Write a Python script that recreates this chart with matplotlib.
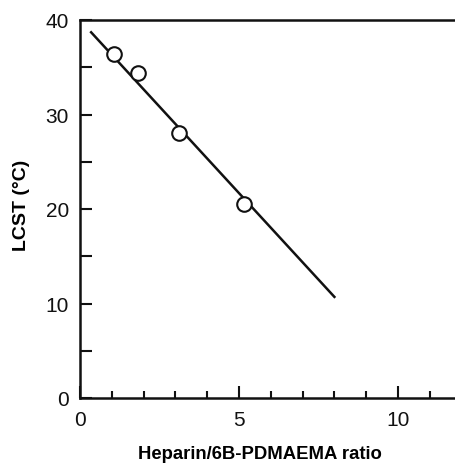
import matplotlib
matplotlib.use("Agg")
import matplotlib.pyplot as plt
from matplotlib.ticker import MultipleLocator

plt.rcParams['font.family'] = ['Liberation Sans', 'DejaVu Sans']

ratio = [1.08, 1.83, 3.12, 5.17]
lcst = [36.4, 34.4, 28.0, 20.5]
fit_x = [0.35, 8.0]
fit_y = [38.7, 10.7]

W, H = 456, 464
fig = plt.figure(figsize=(W / 100, H / 100), dpi=100)
left, right, top, bottom = 80, 455, 21, 399
ax = fig.add_axes([left / W, 1 - bottom / H, (right - left) / W, (bottom - top) / H])

ax.plot(fit_x, fit_y, color='#111111', lw=1.8, zorder=2)
ax.plot(ratio, lcst, linestyle='none', marker='o', ms=10.5, mfc='white',
        mec='#111111', mew=1.5, zorder=3)

ax.set_xlim(0, (right - left) / 31.8)
ax.set_ylim(0, 40)
ax.xaxis.set_major_locator(MultipleLocator(5))
ax.xaxis.set_minor_locator(MultipleLocator(1))
ax.yaxis.set_major_locator(MultipleLocator(10))
ax.yaxis.set_minor_locator(MultipleLocator(5))
ax.tick_params(which='both', direction='in', width=1.5, colors='#111111',
               labelsize=15, top=False, right=False)
ax.tick_params(axis='x', which='major', length=8.5, pad=9)
ax.tick_params(axis='x', which='minor', length=5)
ax.tick_params(axis='y', which='major', length=8.5, pad=8)
ax.tick_params(axis='y', which='minor', length=8.5)
for s in ['left', 'bottom', 'top']:
    ax.spines[s].set_linewidth(1.8)
    ax.spines[s].set_color('#111111')
ax.spines['right'].set_visible(False)

ax.set_xlabel('Heparin/6B-PDMAEMA ratio', fontsize=13.3, fontweight='bold', labelpad=11)
ax.set_ylabel('LCST (°C)', fontsize=14, fontweight='bold', labelpad=11)
ax.xaxis.label.set_x(0.479)
ax.yaxis.label.set_y(0.512)

fig.savefig('out.png', dpi=100)
